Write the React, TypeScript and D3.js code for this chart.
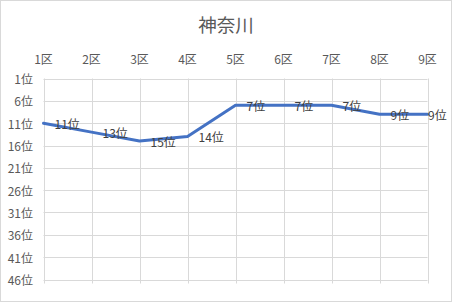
import React from "react";
import * as d3 from "d3";

const title = "神奈川";
const categories = ["1区", "2区", "3区", "4区", "5区", "6区", "7区", "8区", "9区"];
const ranks = [11, 13, 15, 14, 7, 7, 7, 9, 9];
const yTicks = [1, 6, 11, 16, 21, 26, 31, 36, 41, 46];

const W = 452;
const H = 302;
const FONT = "'Noto Sans CJK JP', 'Noto Sans', sans-serif";

export default function App() {
  const left = 43.5;
  const right = 427.5;
  const top = 78.5;
  const bottom = 279.5;

  const x = d3.scalePoint<string>().domain(categories).range([left, right]);
  const y = d3.scaleLinear().domain([1, 46]).range([top, bottom]);

  const line = d3
    .line<number>()
    .x((_, i) => x(categories[i]) as number)
    .y((d) => y(d));

  return (
    <svg
      width={W}
      height={H}
      style={{ position: "absolute", left: 0, top: 0, background: "#fff" }}
      fontFamily={FONT}
    >
      <rect x={0.5} y={0.5} width={W - 1} height={H - 1} fill="#fff" stroke="#d9d9d9" />
      <text x={W / 2} y={24} textAnchor="middle" dominantBaseline="central" fontSize={18.5} fill="#595959">
        {title}
      </text>
      {/* horizontal gridlines */}
      {yTicks.map((t) => (
        <line key={"h" + t} x1={left} x2={right} y1={Math.round(y(t)) + 0.5} y2={Math.round(y(t)) + 0.5} stroke="#d9d9d9" strokeWidth={1} />
      ))}
      {/* vertical gridlines */}
      {categories.map((c) => {
        const xv = Math.round(x(c) as number) + 0.5;
        return <line key={"v" + c} x1={xv} x2={xv} y1={top} y2={bottom + 4} stroke="#d9d9d9" strokeWidth={1} />;
      })}
      {/* x labels on top */}
      {categories.map((c) => (
        <text key={"xl" + c} x={x(c) as number} y={58.5} textAnchor="middle" dominantBaseline="central" fontSize={12} fill="#595959">
          {c}
        </text>
      ))}
      {/* y labels */}
      {yTicks.map((t) => (
        <text key={"yl" + t} x={33} y={y(t)} textAnchor="end" dominantBaseline="central" fontSize={12} fill="#595959">
          {t + "位"}
        </text>
      ))}
      <path d={line(ranks) || ""} fill="none" stroke="#4472C4" strokeWidth={3} strokeLinejoin="round" strokeLinecap="round" />
      {ranks.map((r, i) => {
        const px = x(categories[i]) as number;
        const lx = Math.min(px + 11, W - 24);
        return (
          <text key={"dl" + i} x={lx} y={y(r)} textAnchor="start" dominantBaseline="central" fontSize={12} fill="#404040">
            {r + "位"}
          </text>
        );
      })}
    </svg>
  );
}
